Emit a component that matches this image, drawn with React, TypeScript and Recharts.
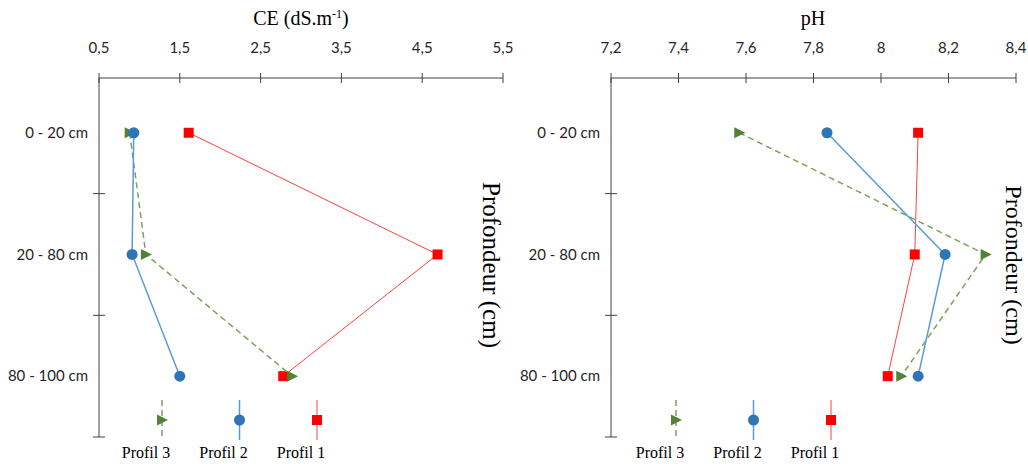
import React from 'react';
import { ComposedChart, Scatter, XAxis, YAxis } from 'recharts';

// ---------- data ----------
const depthLabels = ['0 - 20 cm', '20 - 80 cm', '80 - 100 cm'];
const seriesNames = ['Profil 1', 'Profil 2', 'Profil 3'];

const ceProfil1 = [1.61, 4.69, 2.78];
const ceProfil2 = [0.93, 0.91, 1.5];
const ceProfil3 = [0.88, 1.08, 2.89];

const phProfil1 = [8.11, 8.1, 8.02];
const phProfil2 = [7.84, 8.19, 8.11];
const phProfil3 = [7.58, 8.31, 8.06];

const ceTicks = [0.5, 1.5, 2.5, 3.5, 4.5, 5.5];
const phTicks = [7.2, 7.4, 7.6, 7.8, 8, 8.2, 8.4];
const depthTicks = [0.5, 1, 1.5, 2, 2.5, 3];

// ---------- styles ----------
const SANS = 'Lato, "Open Sans", sans-serif';
const SERIF = '"Liberation Serif", "DejaVu Serif", serif';
const AXIS = '#404040';
const TEXT = '#262626';

type St = { marker: string; fill: string; line: string; width: number; dash?: string };
const STYLES: Record<string, St> = {
  'Profil 1': { marker: 'square', fill: '#ff0000', line: '#ff4040', width: 1 },
  'Profil 2': { marker: 'circle', fill: '#2e75b6', line: '#5b9bd5', width: 1.5 },
  'Profil 3': { marker: 'triangle', fill: '#548235', line: '#7aa35c', width: 1.5, dash: '6 4' },
};

const drawOrder = ['Profil 1', 'Profil 3', 'Profil 2'];
const legendOrder = ['Profil 3', 'Profil 2', 'Profil 1'];

function Marker({ type, cx, cy, fill }: { type: string; cx: number; cy: number; fill: string }) {
  if (type === 'square') return <rect x={cx - 5} y={cy - 5} width={10} height={10} fill={fill} />;
  if (type === 'circle') return <circle cx={cx} cy={cy} r={5.5} fill={fill} />;
  return <polygon points={`${cx - 5},${cy - 5.5} ${cx + 6},${cy} ${cx - 5},${cy + 5.5}`} fill={fill} />;
}

const toPoints = (vals: number[]) => vals.map((v, i) => ({ x: v, y: i + 0.5, depth: depthLabels[i] }));

const X_TICK_SIZE = 5;
const X_TICK_MARGIN = 20;
const Y_TICK_SIZE = 5;
const Y_TICK_MARGIN = 6;

const fmt = (v: number) => String(v).replace('.', ',');

const XTick = (props: any) => {
  const { x, y, payload } = props;
  const axisY = y + X_TICK_SIZE + X_TICK_MARGIN;
  return (
    <g>
      <line x1={x} x2={x} y1={axisY - 5} y2={axisY + 5} stroke={AXIS} strokeWidth={1} />
      <text x={x} y={y} textAnchor="middle" fontFamily={SANS} fontSize={15} fill={TEXT}>
        {fmt(payload.value)}
      </text>
    </g>
  );
};

const YTick = (props: any) => {
  const { x, y, payload } = props;
  const v = payload.value as number;
  const axisX = x + Y_TICK_SIZE + Y_TICK_MARGIN;
  if (Number.isInteger(v)) {
    return <line x1={axisX - 6} x2={axisX + 6} y1={y} y2={y} stroke={AXIS} strokeWidth={1} />;
  }
  return (
    <text x={x} y={y} dy="0.35em" textAnchor="end" fontFamily={SANS} fontSize={15} fill={TEXT}>
      {depthLabels[Math.floor(v)]}
    </text>
  );
};

type PanelProps = {
  width: number;
  yWidth: number;
  right: number;
  domain: [number, number];
  ticks: number[];
  series: Record<string, number[]>;
};

function Panel({ width, yWidth, right, domain, ticks, series }: PanelProps) {
  return (
    <ComposedChart width={width} height={464} margin={{ top: 0, right, bottom: 27, left: 0 }}>
      <XAxis
        type="number"
        dataKey="x"
        orientation="top"
        height={78}
        domain={domain}
        ticks={ticks}
        interval={0}
        allowDataOverflow
        tickSize={X_TICK_SIZE}
        tickMargin={X_TICK_MARGIN}
        tickLine={false}
        tick={<XTick />}
        axisLine={{ stroke: AXIS, strokeWidth: 1 }}
      />
      <YAxis
        type="number"
        dataKey="y"
        width={yWidth}
        domain={[0.05, 3]}
        reversed
        ticks={depthTicks}
        interval={0}
        allowDataOverflow
        tickSize={Y_TICK_SIZE}
        tickMargin={Y_TICK_MARGIN}
        tickLine={false}
        tick={<YTick />}
        axisLine={{ stroke: AXIS, strokeWidth: 1 }}
      />
      {drawOrder.map((name) => {
        const st = STYLES[name];
        return (
          <Scatter
            key={name}
            name={name}
            data={toPoints(series[name])}
            isAnimationActive={false}
            line={{ stroke: st.line, strokeWidth: st.width, strokeDasharray: st.dash }}
            lineType="joint"
            shape={(p: any) => <Marker type={st.marker} cx={p.cx} cy={p.cy} fill={st.fill} />}
          />
        );
      })}
    </ComposedChart>
  );
}

function LegendRow({ x0 }: { x0: number }) {
  return (
    <g>
      {legendOrder.map((name, i) => {
        const st = STYLES[name];
        const cx = x0 + i * 77.5;
        return (
          <g key={name}>
            <line x1={cx} x2={cx} y1={400} y2={440} stroke={st.line} strokeWidth={st.width} strokeDasharray={st.dash} />
            <Marker type={st.marker} cx={cx} cy={420} fill={st.fill} />
            <text x={cx - 16} y={458} textAnchor="middle" fontFamily={SERIF} fontSize={16} fill="#000">
              {name}
            </text>
          </g>
        );
      })}
    </g>
  );
}

export default function App() {
  const ceSeries: Record<string, number[]> = {
    [seriesNames[0]]: ceProfil1,
    [seriesNames[1]]: ceProfil2,
    [seriesNames[2]]: ceProfil3,
  };
  const phSeries: Record<string, number[]> = {
    [seriesNames[0]]: phProfil1,
    [seriesNames[1]]: phProfil2,
    [seriesNames[2]]: phProfil3,
  };
  return (
    <div style={{ position: 'absolute', left: 0, top: 0, width: 1028, height: 464, background: '#fff' }}>
      <div style={{ position: 'absolute', left: 0, top: 0 }}>
        <Panel width={520} yWidth={99} right={17} domain={[0.5, 5.5]} ticks={ceTicks} series={ceSeries} />
      </div>
      <div style={{ position: 'absolute', left: 520, top: 0 }}>
        <Panel width={508} yWidth={91} right={12} domain={[7.2, 8.4]} ticks={phTicks} series={phSeries} />
      </div>
      <svg
        width={1028}
        height={464}
        style={{ position: 'absolute', left: 0, top: 0, pointerEvents: 'none' }}
      >
        <text x={301} y={25} textAnchor="middle" fontFamily={SERIF} fontSize={20} fill="#000">
          CE (dS.m
          <tspan dy={-7} fontSize={12}>-1</tspan>
          <tspan dy={7}>)</tspan>
        </text>
        <text x={813} y={25} textAnchor="middle" fontFamily={SERIF} fontSize={20} fill="#000">
          pH
        </text>
        <text
          transform="translate(483,265) rotate(90)"
          textAnchor="middle"
          fontFamily={SERIF}
          fontSize={25}
          fill="#000"
        >
          Profondeur (cm)
        </text>
        <text
          transform="translate(1006,265) rotate(90)"
          textAnchor="middle"
          fontFamily={SERIF}
          fontSize={24}
          fill="#000"
        >
          Profondeur (cm)
        </text>
        <LegendRow x0={162} />
        <LegendRow x0={676} />
      </svg>
    </div>
  );
}
